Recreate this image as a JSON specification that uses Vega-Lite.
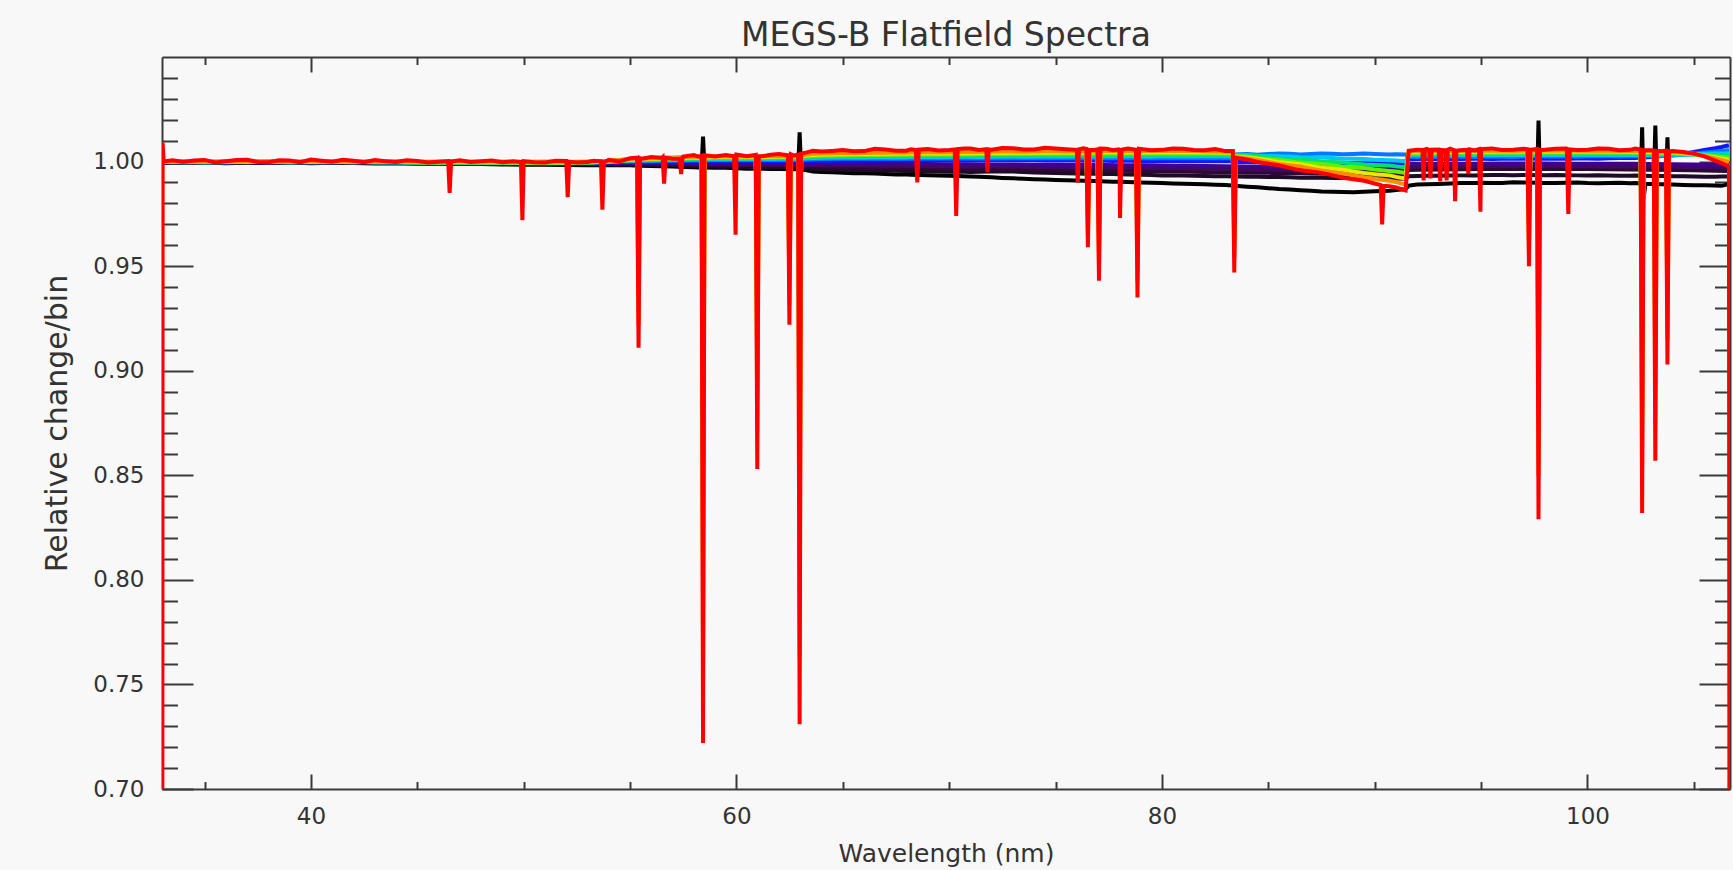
{
"$schema":"https://vega.github.io/schema/vega-lite/v6.json",
"width":1568,"height":732,
"autosize":{"type":"none"},
"padding":{"left":162,"top":57,"right":3,"bottom":81},
"background":"#f8f8f8",
"config":{"view":{"stroke":null},"font":"DejaVu Sans",
"axis":{"domainColor":"#3a3a3a","tickColor":"#3a3a3a","labelColor":"#333333","titleColor":"#333333","domainWidth":2,"tickWidth":2,"grid":false,"labelFont":"DejaVu Sans","titleFont":"DejaVu Sans","labelFontSize":23,"titleFontWeight":"normal","labelOverlap":false,"labelFlush":false}},
"title":{"text":"MEGS-B Flatfield Spectra","fontSize":33,"fontWeight":"normal","color":"#333333","font":"DejaVu Sans","anchor":"middle","frame":"group","baseline":"alphabetic","offset":13,"dy":36},
"data":{"values":[
{"w":33,"a":0.9996,"b":0.9997,"c":0.9998,"d":0.9998,"e":0.9999,"f":1.0,"g":1.0,"h":1.0001,"i":1.0,"j":1.0001,"k":1.0002,"l":1.0002,"m":0.3},
{"w":33.03,"a":0.9995,"b":0.9996,"c":0.9997,"d":0.9998,"e":0.9998,"f":0.9999,"g":1.0001,"h":1.0,"i":0.9999,"j":1.0,"k":1.0001,"l":1.0003,"m":1.009},
{"w":33.08,"m":1.0001},
{"w":33.5,"a":0.9994,"b":0.9995,"c":0.9997,"d":0.9996,"e":0.9998,"f":0.9999,"g":0.9998,"h":1.0002,"i":0.9997,"j":0.9999,"k":1.0001,"l":1.0002,"m":1.0006},
{"w":34,"a":0.9993,"b":0.9996,"c":0.9995,"d":0.9997,"e":0.9997,"f":0.9998,"g":1.0,"h":0.9997,"i":0.9998,"j":1.0,"k":0.9999,"l":1.0001,"m":0.9998},
{"w":34.5,"m":1.0005},
{"w":35,"a":0.9995,"b":0.9994,"c":0.9996,"d":0.9998,"e":0.9996,"f":1.0,"g":0.9997,"h":0.9999,"i":0.9996,"j":0.9998,"k":1.0001,"l":0.9999,"m":1.0008},
{"w":35.5,"m":0.9996},
{"w":36,"a":0.9992,"b":0.9995,"c":0.9997,"d":0.9996,"e":0.9998,"f":0.9997,"g":0.9999,"h":0.9998,"i":0.9997,"j":1.0,"k":0.9998,"l":1.0002,"m":1.0001},
{"w":36.5,"m":1.0007},
{"w":37,"a":0.9994,"b":0.9996,"c":0.9995,"d":0.9997,"e":0.9997,"f":0.9999,"g":0.9998,"h":1.0,"i":0.9998,"j":0.9997,"k":1.0,"l":1.0,"m":1.0009},
{"w":37.5,"m":0.9998},
{"w":38,"a":0.9993,"b":0.9994,"c":0.9996,"d":0.9998,"e":0.9996,"f":0.9998,"g":1.0,"h":0.9997,"i":0.9999,"j":0.9999,"k":0.9999,"l":1.0001,"m":0.9997},
{"w":38.5,"m":1.0006},
{"w":39,"a":0.9995,"b":0.9995,"c":0.9997,"d":0.9996,"e":0.9998,"f":0.9999,"g":0.9997,"h":0.9999,"i":0.9996,"j":1.0,"k":1.0001,"l":0.9999,"m":1.0005},
{"w":39.5,"m":0.9997},
{"w":40,"a":0.9992,"b":0.9996,"c":0.9995,"d":0.9997,"e":0.9997,"f":0.9997,"g":0.9999,"h":0.9998,"i":0.9998,"j":0.9998,"k":0.9998,"l":1.0002,"m":1.001},
{"w":40.5,"m":1.0004},
{"w":41,"a":0.9994,"b":0.9994,"c":0.9996,"d":0.9997,"e":0.9996,"f":0.9998,"g":0.9998,"h":1.0,"i":0.9997,"j":0.9999,"k":1.0,"l":1.0,"m":0.9999},
{"w":41.5,"m":1.0009},
{"w":42,"a":0.9993,"b":0.9995,"c":0.9997,"d":0.9995,"e":0.9998,"f":0.9999,"g":0.9997,"h":0.9998,"i":0.9999,"j":0.9997,"k":0.9999,"l":1.0001,"m":1.0004},
{"w":42.5,"m":0.9997},
{"w":43,"a":0.9991,"b":0.9994,"c":0.9995,"d":0.9997,"e":0.9997,"f":0.9998,"g":0.9999,"h":0.9999,"i":0.9996,"j":0.9999,"k":1.0,"l":0.9999,"m":1.0007},
{"w":43.5,"m":1.0002},
{"w":44,"a":0.9992,"b":0.9993,"c":0.9996,"d":0.9996,"e":0.9996,"f":0.9997,"g":0.9998,"h":0.9998,"i":0.9997,"j":0.9998,"k":0.9999,"l":1.0001,"m":0.9998},
{"w":44.5,"m":1.0006},
{"w":45,"a":0.999,"b":0.9992,"c":0.9994,"d":0.9995,"e":0.9995,"f":0.9996,"g":0.9997,"h":0.9996,"i":0.9995,"j":0.9996,"k":0.9998,"l":0.9999,"m":1.0003},
{"w":45.5,"m":0.9996},
{"w":46,"a":0.9989,"b":0.9991,"c":0.9993,"d":0.9995,"e":0.9994,"f":0.9997,"g":0.9996,"h":0.9995,"i":0.9994,"j":0.9996,"k":0.9997,"l":1.0,"m":0.9999},
{"w":46.45,"m":1.0002},{"w":46.52,"m":0.985},{"w":46.59,"m":1.0},
{"w":47,"a":0.9988,"b":0.999,"c":0.9992,"d":0.9994,"e":0.9995,"f":0.9996,"g":0.9997,"h":0.9996,"i":0.9994,"j":0.9995,"k":0.9998,"l":1.0001,"m":1.0006},
{"w":47.5,"m":0.9998},
{"w":48,"a":0.9988,"b":0.9991,"c":0.9993,"d":0.9993,"e":0.9994,"f":0.9995,"g":0.9996,"h":0.9997,"i":0.9995,"j":0.9996,"k":0.9997,"l":0.9999,"m":1.0001},
{"w":48.5,"m":1.0005},
{"w":49,"a":0.9986,"b":0.9989,"c":0.9991,"d":0.9993,"e":0.9994,"f":0.9996,"g":0.9997,"h":0.9995,"i":0.9993,"j":0.9995,"k":0.9997,"l":1.0,"m":0.9997},
{"w":49.5,"m":1.0001},
{"w":49.87,"m":0.9998},{"w":49.94,"m":0.972},
{"w":50,"a":0.9985,"b":0.9988,"c":0.999,"d":0.9992,"e":0.9993,"f":0.9995,"g":0.9997,"h":0.9996,"i":0.9993,"j":0.9994,"k":0.9996,"l":0.9999,"m":1.0002},
{"w":50.5,"m":0.9997},
{"w":51,"a":0.9985,"b":0.9987,"c":0.999,"d":0.9991,"e":0.9993,"f":0.9995,"g":0.9996,"h":0.9996,"i":0.9992,"j":0.9995,"k":0.9997,"l":1.0,"m":0.9996},
{"w":51.5,"m":1.0004},
{"w":52,"a":0.9984,"b":0.9987,"c":0.9989,"d":0.9991,"e":0.9992,"f":0.9994,"g":0.9997,"h":0.9995,"i":0.9993,"j":0.9994,"k":0.9996,"l":0.9998,"m":1.0003},
{"w":52.07,"m":0.983},{"w":52.14,"m":0.9999},
{"w":52.5,"m":0.9996},
{"w":53,"a":0.9983,"b":0.9986,"c":0.9989,"d":0.999,"e":0.9992,"f":0.9995,"g":0.9996,"h":0.9997,"i":0.9994,"j":0.9995,"k":0.9998,"l":1.0,"m":0.9998},
{"w":53.3,"m":1.0004},
{"w":53.63,"m":1.0001},{"w":53.7,"m":0.977},{"w":53.77,"m":0.9997},
{"w":54,"a":0.9982,"b":0.9986,"c":0.9988,"d":0.999,"e":0.9992,"f":0.9996,"g":0.9999,"h":1.0,"i":0.9998,"j":1.0,"k":1.0002,"l":1.0004,"m":1.0008},
{"w":54.5,"m":1.0001},
{"w":55,"a":0.9982,"b":0.9986,"c":0.9989,"d":0.9991,"e":0.9994,"f":0.9998,"g":1.0002,"h":1.0004,"i":1.0006,"j":1.0008,"k":1.001,"l":1.0012,"m":1.0016},
{"w":55.33,"f":0.9998,"g":1.0002,"h":1.0005,"i":1.0007,"j":1.0009,"k":1.0011,"l":1.0013,"m":1.0019},
{"w":55.4,"f":0.9853,"g":0.9748,"h":0.9642,"i":0.9535,"j":0.9428,"k":0.9321,"l":0.9215,"m":0.911},
{"w":55.47,"f":0.9998,"g":1.0002,"h":1.0005,"i":1.0007,"j":1.0009,"k":1.0011,"l":1.0014,"m":1.0015},
{"w":55.5,"a":0.998,"b":0.9985,"f":0.9999,"h":1.0006,"l":1.0013,"m":1.0013},
{"w":56,"a":0.9979,"b":0.9984,"c":0.9987,"d":0.999,"e":0.9993,"f":0.9998,"g":1.0003,"h":1.0006,"i":1.0008,"j":1.0011,"k":1.0013,"l":1.0016,"m":1.0022},
{"w":56.5,"a":0.9978,"b":0.9982,"f":0.9999,"h":1.0008,"l":1.0019,"m":1.0017},
{"w":56.53,"m":1.002},{"w":56.6,"m":0.9895},{"w":56.67,"m":1.0018},
{"w":57,"a":0.9976,"b":0.9982,"c":0.9986,"d":0.9989,"e":0.9993,"f":0.9999,"g":1.0004,"h":1.0008,"i":1.0011,"j":1.0014,"k":1.0017,"l":1.002,"m":1.0014},
{"w":57.33,"m":1.0013},{"w":57.4,"m":0.994},{"w":57.47,"m":1.0019},
{"w":57.5,"a":0.9974,"b":0.9981,"f":1.0,"h":1.0009,"l":1.0022,"m":1.0024},
{"w":58,"a":0.9973,"b":0.9979,"c":0.9984,"d":0.9988,"e":0.9992,"f":1.0,"g":1.0006,"h":1.001,"i":1.0014,"j":1.0017,"k":1.002,"l":1.0023,"m":1.0031},
{"w":58.2,"a":0.9972,"b":0.9979,"f":1.0001,"h":1.001,"l":1.0023,"m":1.0024},
{"w":58.36,"a":0.9972,"f":1.0,"g":1.0006,"h":1.0011,"i":1.0015,"j":1.0018,"k":1.0021,"l":1.0024,"m":1.0027},
{"w":58.43,"a":1.012,"f":0.9551,"g":0.922,"h":0.8888,"i":0.8555,"j":0.8221,"k":0.7887,"l":0.7553,"m":0.722},
{"w":58.5,"a":0.9971,"f":1.0001,"g":1.0006,"h":1.0011,"i":1.0015,"j":1.0018,"k":1.0021,"l":1.0024,"m":1.003},
{"w":59,"a":0.997,"b":0.9977,"c":0.9983,"d":0.9987,"e":0.9992,"f":1.0001,"g":1.0007,"h":1.0012,"i":1.0016,"j":1.0019,"k":1.0022,"l":1.0025,"m":1.0024},
{"w":59.5,"a":0.997,"b":0.9976,"f":1.0,"h":1.0011,"l":1.0027,"m":1.0031},
{"w":59.89,"m":1.0025},{"w":59.96,"m":0.965},
{"w":60,"a":0.9968,"b":0.9975,"c":0.9982,"d":0.9986,"e":0.9991,"f":1.0001,"g":1.0007,"h":1.0012,"i":1.0016,"j":1.002,"k":1.0023,"l":1.0026,"m":1.0034},
{"w":60.5,"a":0.9966,"b":0.9974,"f":1.0002,"h":1.0013,"l":1.0025,"m":1.0026},
{"w":60.91,"f":1.0001,"g":1.0007,"h":1.0012,"i":1.0016,"j":1.002,"k":1.0023,"l":1.0026,"m":1.0032},
{"w":60.98,"f":0.9762,"g":0.9588,"h":0.9413,"i":0.9237,"j":0.906,"k":0.8883,"l":0.8706,"m":0.853},
{"w":61.05,"f":1.0002,"g":1.0008,"h":1.0013,"i":1.0017,"j":1.002,"k":1.0023,"l":1.0026,"m":1.0025},
{"w":61.3,"a":0.9966,"b":0.9973,"c":0.9981,"d":0.9986,"e":0.9991,"f":1.0002,"g":1.0008,"h":1.0013,"i":1.0017,"j":1.002,"k":1.0023,"l":1.0026,"m":1.0027},
{"w":61.6,"a":0.9965,"b":0.9972,"f":1.0003,"h":1.0012,"l":1.0028,"m":1.0033},
{"w":62,"a":0.9964,"b":0.9972,"c":0.998,"d":0.9985,"e":0.9991,"f":1.0002,"g":1.0008,"h":1.0013,"i":1.0017,"j":1.0021,"k":1.0024,"l":1.0027,"m":1.0036},
{"w":62.42,"f":1.0002,"g":1.0008,"h":1.0013,"i":1.0017,"j":1.0021,"k":1.0024,"l":1.0027,"m":1.003},
{"w":62.49,"f":0.9872,"g":0.9781,"h":0.9688,"i":0.9595,"j":0.9501,"k":0.9407,"l":0.9312,"m":0.922},
{"w":62.56,"f":1.0002,"g":1.0008,"h":1.0013,"i":1.0017,"j":1.0021,"k":1.0024,"l":1.0027,"m":1.0035},
{"w":62.7,"a":0.9963,"b":0.997,"f":1.0001,"h":1.0014,"l":1.0026,"m":1.0029},
{"w":62.9,"a":0.9963,"f":1.0002,"g":1.0009,"h":1.0014,"i":1.0018,"j":1.0022,"k":1.0025,"l":1.0028,"m":1.0033},
{"w":62.97,"a":1.014,"f":0.9566,"g":0.9246,"h":0.8924,"i":0.8601,"j":0.8278,"k":0.7954,"l":0.763,"m":0.731},
{"w":63.04,"a":0.9961,"f":1.0002,"g":1.0009,"h":1.0014,"i":1.0018,"j":1.0022,"k":1.0025,"l":1.0028,"m":1.0038},
{"w":63.3,"a":0.9958,"b":0.9968,"c":0.9978,"d":0.9984,"e":0.9991,"f":1.0003,"g":1.001,"h":1.0016,"i":1.0021,"j":1.0026,"k":1.003,"l":1.0034,"m":1.0044},
{"w":63.6,"a":0.9952,"b":0.9966,"f":1.0004,"h":1.0017,"l":1.0037,"m":1.0052},
{"w":64,"a":0.995,"b":0.9963,"c":0.9975,"d":0.9983,"e":0.999,"f":1.0004,"g":1.0012,"h":1.0018,"i":1.0024,"j":1.0029,"k":1.0034,"l":1.0039,"m":1.0048},
{"w":64.5,"a":0.9949,"b":0.9962,"f":1.0004,"h":1.0019,"l":1.004,"m":1.0051},
{"w":65,"a":0.9947,"b":0.9961,"c":0.9973,"d":0.9982,"e":0.999,"f":1.0005,"g":1.0013,"h":1.0019,"i":1.0025,"j":1.003,"k":1.0035,"l":1.004,"m":1.0055},
{"w":65.5,"a":0.9944,"b":0.996,"f":1.0006,"h":1.0019,"l":1.004,"m":1.0049},
{"w":66,"a":0.9944,"b":0.9959,"c":0.9972,"d":0.9981,"e":0.9989,"f":1.0005,"g":1.0013,"h":1.002,"i":1.0026,"j":1.0031,"k":1.0036,"l":1.0041,"m":1.005},
{"w":66.5,"a":0.9943,"b":0.9958,"f":1.0005,"h":1.0021,"l":1.0042,"m":1.0061},
{"w":67,"a":0.9941,"b":0.9957,"c":0.997,"d":0.998,"e":0.9989,"f":1.0006,"g":1.0014,"h":1.0021,"i":1.0027,"j":1.0032,"k":1.0037,"l":1.0042,"m":1.0058},
{"w":67.5,"a":0.9938,"b":0.9956,"f":1.0007,"h":1.002,"l":1.0043,"m":1.0052},
{"w":68,"a":0.9938,"b":0.9955,"c":0.9969,"d":0.9979,"e":0.9988,"f":1.0006,"g":1.0014,"h":1.0021,"i":1.0027,"j":1.0033,"k":1.0038,"l":1.0043,"m":1.0052},
{"w":68.2,"a":0.9937,"b":0.9954,"f":1.0005,"h":1.0022,"l":1.0044,"m":1.0059},
{"w":68.43,"m":1.0055},{"w":68.5,"m":0.99},{"w":68.57,"m":1.0057},
{"w":69,"a":0.9935,"b":0.9953,"c":0.9968,"d":0.9978,"e":0.9988,"f":1.0006,"g":1.0015,"h":1.0022,"i":1.0028,"j":1.0034,"k":1.0039,"l":1.0044,"m":1.006},
{"w":69.5,"a":0.9933,"b":0.9952,"f":1.0007,"h":1.0021,"l":1.0045,"m":1.0053},
{"w":70,"a":0.9932,"b":0.9951,"c":0.9966,"d":0.9977,"e":0.9987,"f":1.0006,"g":1.0015,"h":1.0022,"i":1.0028,"j":1.0034,"k":1.0039,"l":1.0045,"m":1.0055},
{"w":70.26,"m":1.0058},{"w":70.33,"m":0.974},{"w":70.4,"m":1.006},
{"w":70.7,"a":0.993,"b":0.9951,"f":1.0005,"h":1.0023,"l":1.0046,"m":1.0063},
{"w":71,"a":0.9929,"b":0.995,"c":0.9965,"d":0.9976,"e":0.9987,"f":1.0006,"g":1.0015,"h":1.0023,"i":1.0029,"j":1.0035,"k":1.004,"l":1.0046,"m":1.0062},
{"w":71.4,"a":0.9927,"b":0.9951,"f":1.0007,"h":1.0022,"l":1.0046,"m":1.0055},
{"w":71.74,"m":1.0059},{"w":71.8,"m":0.995},{"w":71.86,"m":1.0058},
{"w":72,"a":0.9925,"b":0.9953,"c":0.9964,"d":0.9976,"e":0.9986,"f":1.0006,"g":1.0015,"h":1.0023,"i":1.003,"j":1.0036,"k":1.0041,"l":1.0047,"m":1.0057},
{"w":72.5,"a":0.9922,"b":0.9952,"f":1.0006,"h":1.0024,"l":1.0048,"m":1.0065},
{"w":73,"a":0.992,"b":0.9952,"c":0.9963,"d":0.9975,"e":0.9986,"f":1.0006,"g":1.0016,"h":1.0024,"i":1.003,"j":1.0036,"k":1.0042,"l":1.0048,"m":1.0064},
{"w":73.5,"a":0.9918,"b":0.995,"f":1.0007,"h":1.0023,"l":1.0047,"m":1.0058},
{"w":74,"a":0.9916,"b":0.9948,"c":0.9962,"d":0.9974,"e":0.9985,"f":1.0006,"g":1.0016,"h":1.0024,"i":1.0031,"j":1.0037,"k":1.0042,"l":1.0048,"m":1.0058},
{"w":74.5,"a":0.9914,"b":0.9946,"f":1.0005,"h":1.0025,"l":1.0049,"m":1.0066},
{"w":75,"a":0.9912,"b":0.9945,"c":0.996,"d":0.9973,"e":0.9985,"f":1.0005,"g":1.0016,"h":1.0024,"i":1.0031,"j":1.0037,"k":1.0043,"l":1.0049,"m":1.0063},
{"w":75.5,"a":0.9911,"b":0.9944,"f":1.0006,"h":1.0024,"l":1.0048,"m":1.0059},
{"w":76,"a":0.9909,"b":0.9943,"c":0.9959,"d":0.9972,"e":0.9984,"f":1.0005,"g":1.0016,"h":1.0025,"i":1.0032,"j":1.0038,"k":1.0043,"l":1.0049,"m":1.0056},
{"w":76.04,"m":0.99},{"w":76.1,"m":1.0058},
{"w":76.3,"a":0.9908,"b":0.9942,"f":1.0004,"h":1.0025,"l":1.005,"m":1.0063},
{"w":76.45,"f":1.0005,"g":1.0016,"h":1.0025,"i":1.0032,"j":1.0038,"k":1.0043,"l":1.0049,"m":1.006},
{"w":76.52,"f":0.993,"g":0.9885,"h":0.9838,"i":0.9789,"j":0.9738,"k":0.9688,"l":0.9637,"m":0.959},
{"w":76.59,"f":1.0005,"g":1.0016,"h":1.0025,"i":1.0032,"j":1.0038,"k":1.0044,"l":1.0049,"m":1.0055},
{"w":76.8,"a":0.9907,"b":0.9942,"f":1.0005,"h":1.0026,"l":1.0048,"m":1.0055},
{"w":76.97,"f":1.0004,"g":1.0016,"h":1.0025,"i":1.0032,"j":1.0038,"k":1.0044,"l":1.005,"m":1.0058},
{"w":77.04,"f":0.9903,"g":0.984,"h":0.9773,"i":0.9704,"j":0.9635,"k":0.9565,"l":0.9496,"m":0.943},
{"w":77.11,"f":1.0004,"g":1.0016,"h":1.0025,"i":1.0032,"j":1.0038,"k":1.0044,"l":1.005,"m":1.0062},
{"w":77.4,"a":0.9905,"b":0.9941,"c":0.9958,"d":0.9971,"e":0.9984,"f":1.0004,"g":1.0016,"h":1.0025,"i":1.0032,"j":1.0038,"k":1.0044,"l":1.005,"m":1.0061},
{"w":77.7,"a":0.9904,"b":0.994,"f":1.0003,"h":1.0024,"l":1.0051,"m":1.0054},
{"w":77.96,"m":1.0058},
{"w":78,"a":0.9903,"b":0.9939,"c":0.9956,"d":0.997,"e":0.9983,"f":1.0004,"g":1.0016,"h":1.0025,"i":1.0032,"j":1.0038,"k":1.0044,"l":1.005,"m":1.0055},
{"w":78.03,"m":0.973},{"w":78.1,"m":1.0057},
{"w":78.4,"a":0.9902,"b":0.9938,"f":1.0005,"h":1.0026,"l":1.0049,"m":1.0062},
{"w":78.78,"f":1.0003,"g":1.0016,"h":1.0025,"i":1.0033,"j":1.0039,"k":1.0044,"l":1.005,"m":1.0057},
{"w":78.85,"f":0.9889,"g":0.9817,"h":0.9741,"i":0.9664,"j":0.9585,"k":0.9504,"l":0.9425,"m":0.935},
{"w":78.92,"f":1.0003,"g":1.0016,"h":1.0025,"i":1.0033,"j":1.0039,"k":1.0044,"l":1.005,"m":1.0061},
{"w":79,"a":0.99,"b":0.9937,"c":0.9955,"d":0.9969,"e":0.9982,"f":1.0003,"g":1.0016,"h":1.0025,"i":1.0033,"j":1.0039,"k":1.0044,"l":1.005,"m":1.006},
{"w":79.5,"a":0.9899,"b":0.9936,"f":1.0002,"h":1.0024,"l":1.0052,"m":1.0054},
{"w":80,"a":0.9897,"b":0.9934,"c":0.9953,"d":0.9968,"e":0.9981,"f":1.0003,"g":1.0016,"h":1.0025,"i":1.0033,"j":1.0039,"k":1.0045,"l":1.0051,"m":1.0056},
{"w":80.5,"a":0.9895,"b":0.9934,"f":1.0004,"h":1.0026,"l":1.005,"m":1.0063},
{"w":81,"a":0.9894,"b":0.9933,"c":0.9952,"d":0.9967,"e":0.998,"f":1.0002,"g":1.0016,"h":1.0026,"i":1.0033,"j":1.0039,"k":1.0045,"l":1.0051,"m":1.0061},
{"w":81.5,"a":0.9893,"b":0.9932,"f":1.0001,"h":1.0025,"l":1.0052,"m":1.0055},
{"w":82,"a":0.9891,"b":0.9931,"c":0.995,"d":0.9966,"e":0.9979,"f":1.0002,"g":1.0016,"h":1.0026,"i":1.0033,"j":1.0039,"k":1.0044,"l":1.0049,"m":1.0054},
{"w":82.5,"a":0.9889,"b":0.993,"f":1.0003,"h":1.0027,"l":1.0048,"m":1.006},
{"w":83,"a":0.9888,"b":0.993,"c":0.9949,"d":0.9965,"e":0.9978,"f":1.0001,"g":1.0016,"h":1.0026,"i":1.0033,"j":1.0038,"k":1.0043,"l":1.0047,"m":1.005},
{"w":83.33,"f":1.0001,"g":1.0017,"h":1.0026,"i":1.0033,"j":1.0038,"k":1.0043,"l":1.0047,"m":1.005},
{"w":83.4,"f":0.991,"g":0.9872,"h":0.9807,"i":0.974,"j":0.9673,"k":0.9606,"l":0.9539,"m":0.947},
{"w":83.47,"f":0.9999,"g":1.0034,"h":1.003,"i":1.0028,"j":1.0026,"k":1.0024,"l":1.0022,"m":1.0018},
{"w":84,"a":0.988,"b":0.9928,"c":0.9947,"d":0.9962,"e":0.9976,"f":0.9998,"g":1.0036,"h":1.0031,"i":1.0027,"j":1.0023,"k":1.0019,"l":1.0015,"m":1.001},
{"w":84.5,"a":0.9877,"b":0.9927,"f":0.9997,"g":1.0033,"h":1.0028,"i":1.0025,"j":1.0016,"k":1.0013,"l":1.0008,"m":0.9998},
{"w":85,"a":0.9873,"b":0.9926,"c":0.9946,"d":0.9961,"e":0.9975,"f":0.9997,"g":1.0036,"h":1.0027,"i":1.0019,"j":1.0012,"k":1.0005,"l":0.9998,"m":0.999},
{"w":85.5,"a":0.9869,"b":0.9926,"f":0.9997,"g":1.0039,"h":1.0026,"i":1.0014,"j":1.0008,"k":0.9997,"l":0.9988,"m":0.9982},
{"w":86,"a":0.9867,"b":0.9925,"c":0.9945,"d":0.996,"e":0.9974,"f":0.9996,"g":1.0037,"h":1.0024,"i":1.0012,"j":1.0002,"k":0.9992,"l":0.9982,"m":0.997},
{"w":86.5,"a":0.9863,"b":0.9923,"f":0.9995,"g":1.0034,"h":1.0021,"i":1.001,"j":0.9995,"k":0.9987,"l":0.9976,"m":0.9958},
{"w":87,"a":0.986,"b":0.9923,"c":0.9943,"d":0.9959,"e":0.9973,"f":0.9995,"g":1.0036,"h":1.002,"i":1.0005,"j":0.9992,"k":0.9979,"l":0.9966,"m":0.9952},
{"w":87.5,"a":0.9857,"b":0.9923,"f":0.9994,"g":1.0038,"h":1.0019,"i":1.0,"j":0.9989,"k":0.997,"l":0.9957,"m":0.9946},
{"w":88,"a":0.9856,"b":0.9922,"c":0.9942,"d":0.9958,"e":0.9972,"f":0.9994,"g":1.0037,"h":1.0017,"i":0.9998,"j":0.9982,"k":0.9966,"l":0.995,"m":0.9935},
{"w":88.5,"a":0.9855,"b":0.9921,"f":0.9993,"g":1.0035,"h":1.0014,"i":0.9996,"j":0.9975,"k":0.9961,"l":0.9943,"m":0.9922},
{"w":89,"a":0.9853,"b":0.9921,"c":0.9941,"d":0.9957,"e":0.9971,"f":0.9993,"g":1.0036,"h":1.0013,"i":0.9991,"j":0.9972,"k":0.9953,"l":0.9934,"m":0.9915},
{"w":89.5,"a":0.9856,"b":0.992,"f":0.9992,"g":1.0038,"h":1.0012,"i":0.9986,"j":0.9969,"k":0.9945,"l":0.9925,"m":0.9908},
{"w":90,"a":0.9858,"b":0.992,"c":0.994,"d":0.9956,"e":0.997,"f":0.9992,"g":1.0036,"h":1.0009,"i":0.9984,"j":0.9962,"k":0.994,"l":0.9918,"m":0.9895},
{"w":90.28,"m":0.9888},{"w":90.35,"m":0.97},{"w":90.42,"m":0.9884},
{"w":90.7,"a":0.9861,"b":0.9919,"f":0.9991,"g":1.0034,"h":1.0006,"i":0.9981,"j":0.9955,"k":0.9934,"l":0.9908,"m":0.9882},
{"w":91,"a":0.9864,"b":0.9919,"c":0.9939,"d":0.9955,"e":0.9969,"f":0.9991,"g":1.0035,"h":1.0005,"i":0.9977,"j":0.9952,"k":0.9927,"l":0.9902,"m":0.9876},
{"w":91.45,"a":0.9868,"b":0.9918,"c":0.9938,"d":0.9954,"e":0.9968,"f":0.999,"g":1.0034,"h":1.0002,"i":0.9972,"j":0.9945,"k":0.9918,"l":0.989,"m":0.9862},
{"w":91.6,"a":0.9885,"b":0.993,"c":0.996,"d":0.9975,"e":0.9988,"f":1.001,"g":1.0022,"h":1.003,"i":1.0035,"j":1.004,"k":1.0044,"l":1.0049,"m":1.0052},
{"w":92,"a":0.989,"b":0.9931,"c":0.9961,"d":0.9975,"e":0.9988,"f":1.0011,"g":1.0022,"h":1.003,"i":1.0035,"j":1.004,"k":1.0045,"l":1.005,"m":1.0057},
{"w":92.24,"m":1.0056},{"w":92.3,"m":0.991},{"w":92.36,"m":1.0058},
{"w":92.45,"a":0.9891,"b":0.9932,"f":1.0012,"g":1.0021,"h":1.0031,"l":1.0049,"m":1.0061},
{"w":92.56,"m":1.0055},{"w":92.62,"m":0.992},{"w":92.68,"m":1.0057},
{"w":93,"a":0.9893,"b":0.9932,"c":0.9962,"d":0.9976,"e":0.9989,"f":1.0012,"g":1.0022,"h":1.003,"i":1.0036,"j":1.0041,"k":1.0046,"l":1.005,"m":1.0058},
{"w":93.08,"m":0.9905},{"w":93.14,"m":1.0056},
{"w":93.32,"m":1.0054},{"w":93.38,"m":0.991},{"w":93.44,"m":1.0057},
{"w":93.55,"a":0.9895,"b":0.9933,"f":1.0011,"g":1.0023,"h":1.0029,"l":1.0052,"m":1.0062},
{"w":93.72,"m":1.0055},{"w":93.78,"m":0.981},{"w":93.84,"m":1.0052},
{"w":94,"a":0.9897,"b":0.9934,"c":0.9963,"d":0.9977,"e":0.999,"f":1.0012,"g":1.0023,"h":1.0031,"i":1.0037,"j":1.0042,"k":1.0047,"l":1.0051,"m":1.0054},
{"w":94.34,"m":1.0056},{"w":94.4,"m":0.994},{"w":94.46,"m":1.0058},
{"w":94.7,"a":0.9898,"b":0.9934,"f":1.0013,"g":1.0022,"h":1.0032,"l":1.005,"m":1.0053},
{"w":94.9,"m":1.0059},{"w":94.97,"m":0.976},
{"w":95,"a":0.9899,"b":0.9935,"c":0.9964,"d":0.9978,"e":0.999,"f":1.0013,"g":1.0023,"h":1.0031,"i":1.0037,"j":1.0042,"k":1.0047,"l":1.0052,"m":1.006},
{"w":95.5,"a":0.9897,"b":0.9936,"f":1.0012,"g":1.0024,"h":1.003,"l":1.0053,"m":1.0063},
{"w":96,"a":0.9898,"b":0.9936,"c":0.9965,"d":0.9979,"e":0.9991,"f":1.0013,"g":1.0023,"h":1.0031,"i":1.0037,"j":1.0043,"k":1.0048,"l":1.0052,"m":1.0055},
{"w":96.5,"a":0.9901,"b":0.9935,"f":1.0014,"g":1.0022,"h":1.0032,"l":1.0051,"m":1.0056},
{"w":97,"a":0.99,"b":0.9936,"c":0.9965,"d":0.9979,"e":0.9991,"f":1.0013,"g":1.0024,"h":1.0032,"i":1.0038,"j":1.0043,"k":1.0048,"l":1.0053,"m":1.0061},
{"w":97.18,"f":1.0013,"g":1.0024,"h":1.0032,"i":1.0038,"j":1.0043,"k":1.0048,"l":1.0053,"m":1.0059},
{"w":97.25,"f":0.9924,"g":0.9868,"h":0.9809,"i":0.9748,"j":0.9686,"k":0.9624,"l":0.9562,"m":0.95},
{"w":97.32,"f":1.0013,"g":1.0024,"h":1.0032,"i":1.0038,"j":1.0043,"k":1.0048,"l":1.0053,"m":1.0056},
{"w":97.63,"a":0.9899,"f":1.0014,"g":1.0024,"h":1.0032,"i":1.0038,"j":1.0043,"k":1.0048,"l":1.0053,"m":1.006},
{"w":97.7,"a":1.0196,"f":0.9731,"g":0.9529,"h":0.9325,"i":0.9119,"j":0.8911,"k":0.8704,"l":0.8497,"m":0.829},
{"w":97.77,"a":0.9898,"f":1.0014,"g":1.0024,"h":1.0032,"i":1.0038,"j":1.0043,"k":1.0048,"l":1.0053,"m":1.0055},
{"w":98,"a":0.9898,"b":0.9935,"c":0.9965,"d":0.9979,"e":0.9991,"f":1.0014,"g":1.0024,"h":1.0032,"i":1.0038,"j":1.0043,"k":1.0048,"l":1.0053,"m":1.0056},
{"w":98.5,"a":0.9897,"b":0.9936,"f":1.0013,"g":1.0025,"h":1.0031,"l":1.0054,"m":1.0061},
{"w":99,"a":0.9899,"b":0.9935,"c":0.9964,"d":0.9978,"e":0.999,"f":1.0014,"g":1.0024,"h":1.0032,"i":1.0038,"j":1.0043,"k":1.0048,"l":1.0053,"m":1.0062},
{"w":99.03,"m":1.0061},{"w":99.1,"m":0.975},{"w":99.17,"m":1.0058},
{"w":99.5,"a":0.99,"b":0.9934,"f":1.0015,"g":1.0023,"h":1.0033,"l":1.0052,"m":1.0055},
{"w":100,"a":0.9897,"b":0.9934,"c":0.9964,"d":0.9978,"e":0.999,"f":1.0015,"g":1.0025,"h":1.0032,"i":1.0038,"j":1.0043,"k":1.0048,"l":1.0052,"m":1.0057},
{"w":100.5,"a":0.9896,"b":0.9935,"f":1.0014,"g":1.0026,"h":1.0031,"l":1.0053,"m":1.0063},
{"w":101,"a":0.9898,"b":0.9933,"c":0.9963,"d":0.9977,"e":0.9989,"f":1.0016,"g":1.0025,"h":1.0032,"i":1.0038,"j":1.0043,"k":1.0048,"l":1.0052,"m":1.0061},
{"w":101.5,"a":0.9899,"b":0.9932,"f":1.0017,"g":1.0024,"h":1.0033,"l":1.005,"m":1.0054},
{"w":102,"a":0.9896,"b":0.9932,"c":0.9962,"d":0.9977,"e":0.9989,"f":1.0018,"g":1.0026,"h":1.0032,"i":1.0038,"j":1.0043,"k":1.0047,"l":1.0051,"m":1.0056},
{"w":102.25,"a":0.9897,"b":0.9933,"f":1.0017,"g":1.0027,"h":1.0031,"l":1.0052,"m":1.0062},
{"w":102.5,"a":0.9895,"f":1.0019,"g":1.0026,"h":1.0032,"i":1.0038,"j":1.0043,"k":1.0047,"l":1.0051,"m":1.0058},
{"w":102.57,"a":1.0164,"f":0.9741,"g":0.954,"h":0.9338,"i":0.9136,"j":0.8933,"k":0.8728,"l":0.8524,"m":0.832},
{"w":102.64,"a":0.982,"f":1.0019,"g":1.0026,"h":1.0032,"i":1.0038,"j":1.0043,"k":1.0047,"l":1.0051,"m":1.0054},
{"w":102.72,"a":0.9894},
{"w":103,"a":0.9893,"b":0.9931,"c":0.9961,"d":0.9976,"e":0.9988,"f":1.0022,"g":1.0027,"h":1.0032,"i":1.0037,"j":1.0042,"k":1.0046,"l":1.005,"m":1.0054},
{"w":103.12,"a":0.9893,"f":1.0024,"g":1.0028,"h":1.0032,"i":1.0037,"j":1.0041,"k":1.0045,"l":1.0049,"m":1.0053},
{"w":103.19,"a":1.0172,"f":0.9787,"g":0.9613,"h":0.9439,"i":0.9266,"j":0.9093,"k":0.8919,"l":0.8745,"m":0.857},
{"w":103.26,"a":0.9892,"f":1.0024,"g":1.0028,"h":1.0032,"i":1.0037,"j":1.0041,"k":1.0045,"l":1.0049,"m":1.0051},
{"w":103.5,"a":0.9892,"b":0.9931,"f":1.0027,"g":1.0027,"h":1.0033,"l":1.0048,"m":1.0049},
{"w":103.69,"a":0.9891,"f":1.0029,"g":1.0029,"h":1.0033,"i":1.0036,"j":1.004,"k":1.0044,"l":1.0047,"m":1.0052},
{"w":103.76,"a":1.0116,"f":0.9867,"g":0.9743,"h":0.9625,"i":0.9506,"j":0.9387,"k":0.9269,"l":0.9149,"m":0.903},
{"w":103.83,"a":0.989,"f":1.003,"g":1.0029,"h":1.0033,"i":1.0036,"j":1.004,"k":1.0044,"l":1.0047,"m":1.0049},
{"w":104,"a":0.989,"b":0.993,"c":0.996,"d":0.9975,"e":0.9987,"f":1.003,"g":1.0029,"h":1.0033,"i":1.0036,"j":1.004,"k":1.0044,"l":1.0047,"m":1.005},
{"w":104.5,"a":0.9888,"b":0.993,"f":1.0037,"g":1.0032,"h":1.0033,"l":1.0043,"m":1.0046},
{"w":105,"a":0.9887,"b":0.9929,"c":0.9958,"d":0.9974,"e":0.9986,"f":1.0046,"g":1.0037,"h":1.0034,"i":1.0034,"j":1.0035,"k":1.0036,"l":1.0037,"m":1.0038},
{"w":105.5,"a":0.9887,"b":0.9928,"f":1.0056,"g":1.0043,"h":1.0037,"l":1.0027,"m":1.0025},
{"w":106,"a":0.9885,"b":0.9928,"c":0.9956,"d":0.9972,"e":0.9985,"f":1.0064,"g":1.0048,"h":1.0038,"i":1.003,"j":1.0025,"k":1.002,"l":1.0015,"m":1.0005},
{"w":106.3,"a":0.9884,"b":0.9929,"f":1.007,"g":1.005,"h":1.0038,"l":1.0008,"m":0.9993},
{"w":106.65,"a":0.9892,"b":0.9929,"c":0.9955,"d":0.9971,"e":0.9984,"f":1.0078,"g":1.0055,"h":1.004,"i":1.0027,"j":1.0018,"k":1.0008,"l":0.9998,"m":0.9975},
{"w":106.7,"m":0.3}
]},
"transform":[{"fold":["a","b","c","d","e","f","g","h","i","j","k","l","m"],"as":["series","value"]},{"filter":"isValid(datum.value)"}],
"layer":[
{"mark":{"type":"line","strokeWidth":4,"clip":true,"interpolate":"linear"},
"encoding":{
"x":{"field":"w","type":"quantitative","scale":{"domain":[33,106.7],"nice":false,"zero":false},
"axis":{"orient":"bottom","values":[40,60,80,100],"tickSize":-15,"labelPadding":31,"title":"Wavelength (nm)","titleFontSize":25,"titlePadding":13}},
"y":{"field":"value","type":"quantitative","scale":{"domain":[0.7,1.05],"nice":false,"zero":false},
"axis":{"orient":"left","values":[0.7,0.75,0.8,0.85,0.9,0.95,1],"format":".2f","tickSize":31,"offset":-31,"domain":false,"labelPadding":18,"title":"Relative change/bin","titleFontSize":30,"titlePadding":20}},
"color":{"field":"series","type":"nominal","scale":{"domain":["a","b","c","d","e","f","g","h","i","j","k","l","m"],"range":["#000000","#1e0b26","#2e0838","#3f0a58","#400090","#1414ff","#0078ff","#00c8f0","#00e070","#60f000","#e8e800","#ff8c00","#ff0000"]},"legend":null}
}},
{"transform":[{"filter":"datum.series === 'a'"}],
"mark":{"type":"line","opacity":0,"clip":true},
"encoding":{
"x":{"field":"w","type":"quantitative","scale":{"domain":[33,106.7],"nice":false,"zero":false},
"axis":{"orient":"top","values":[40,60,80,100],"tickSize":-15,"labels":false,"title":null}},
"y":{"field":"value","type":"quantitative","scale":{"domain":[0.7,1.05],"nice":false,"zero":false},
"axis":{"orient":"right","values":[0.7,0.75,0.8,0.85,0.9,0.95,1],"tickSize":31,"offset":-31,"domain":false,"labels":false,"title":null}}
}},
{"transform":[{"filter":"datum.series === 'a'"}],
"mark":{"type":"line","opacity":0,"clip":true},
"encoding":{
"x":{"field":"w","type":"quantitative","scale":{"domain":[33,106.7],"nice":false,"zero":false},
"axis":{"orient":"bottom","values":[35,45,50,55,65,70,75,85,90,95,105],"tickSize":-7.5,"labels":false,"domain":false,"title":null}},
"y":{"field":"value","type":"quantitative","scale":{"domain":[0.7,1.05],"nice":false,"zero":false},
"axis":{"orient":"left","values":[0.71,0.72,0.73,0.74,0.76,0.77,0.78,0.79,0.81,0.82,0.83,0.84,0.86,0.87,0.88,0.89,0.91,0.92,0.93,0.94,0.96,0.97,0.98,0.99,1.01,1.02,1.03,1.04],"tickSize":-15.5,"labels":false,"title":null}}
}},
{"transform":[{"filter":"datum.series === 'a'"}],
"mark":{"type":"line","opacity":0,"clip":true},
"encoding":{
"x":{"field":"w","type":"quantitative","scale":{"domain":[33,106.7],"nice":false,"zero":false},
"axis":{"orient":"top","values":[35,45,50,55,65,70,75,85,90,95,105],"tickSize":-7.5,"labels":false,"domain":false,"title":null}},
"y":{"field":"value","type":"quantitative","scale":{"domain":[0.7,1.05],"nice":false,"zero":false},
"axis":{"orient":"right","values":[0.71,0.72,0.73,0.74,0.76,0.77,0.78,0.79,0.81,0.82,0.83,0.84,0.86,0.87,0.88,0.89,0.91,0.92,0.93,0.94,0.96,0.97,0.98,0.99,1.01,1.02,1.03,1.04],"tickSize":-15.5,"labels":false,"title":null}}
}}
],
"resolve":{"axis":{"x":"independent","y":"independent"}}
}
